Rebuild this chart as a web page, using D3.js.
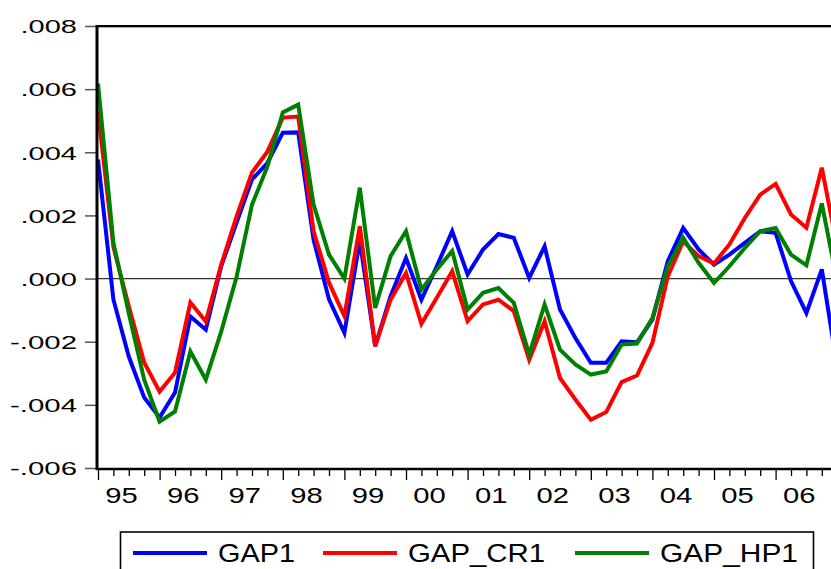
<!DOCTYPE html>
<html>
<head>
<meta charset="utf-8">
<script src="https://cdn.jsdelivr.net/npm/d3@7"></script>
<style>
  body { margin: 0; background: #fff; }
  svg { display: block; font-family: Arial, "Liberation Sans", sans-serif; }
</style>
</head>
<body>
<svg id="chart" width="831" height="569"></svg>
<script>
// quarterly observations, 1995Q1 .. 2007Q1, values in units of 0.001
const gap1 = [3.77, -0.66, -2.47, -3.77, -4.40, -3.61, -1.20, -1.62, 0.39, 1.77, 3.14, 3.66,
  4.62, 4.63, 1.23, -0.66, -1.72, 1.20, -2.14, -0.56, 0.65, -0.67, 0.39, 1.50,
  0.13, 0.92, 1.41, 1.29, 0.02, 1.02, -0.98, -1.88, -2.67, -2.67, -1.99, -2.02,
  -1.30, 0.55, 1.60, 0.92, 0.44, 0.76, 1.13, 1.50, 1.45, -0.08, -1.09, 0.29, -2.80];
const gapCr1 = [5.30, 1.00, -0.88, -2.66, -3.58, -2.98, -0.76, -1.36, 0.44, 1.97, 3.36, 4.02,
  5.10, 5.13, 1.50, -0.13, -1.19, 1.66, -2.14, -0.67, 0.18, -1.43, -0.61, 0.23,
  -1.35, -0.82, -0.67, -1.03, -2.57, -1.35, -3.15, -3.83, -4.47, -4.23, -3.28, -3.07,
  -2.04, 0.07, 1.18, 0.71, 0.48, 1.08, 1.92, 2.66, 3.00, 2.03, 1.61, 3.51, 1.00];
const gapHp1 = [6.18, 1.14, -1.10, -3.20, -4.53, -4.21, -2.31, -3.20, -1.68, 0.06, 2.34, 3.55,
  5.26, 5.51, 2.34, 0.76, 0.00, 2.88, -0.93, 0.71, 1.50, -0.35, 0.29, 0.87,
  -0.98, -0.45, -0.30, -0.77, -2.41, -0.82, -2.25, -2.72, -3.04, -2.94, -2.09, -2.06,
  -1.25, 0.39, 1.29, 0.50, -0.14, 0.39, 0.97, 1.50, 1.60, 0.76, 0.42, 2.38, -0.10];

const seriesNames = ["GAP1", "GAP_CR1", "GAP_HP1"];
const seriesColors = ["#0000ff", "#ff0000", "#008000"];
const yearLabels = ["95", "96", "97", "98", "99", "00", "01", "02", "03", "04", "05", "06"];
const yTicks = [-0.006, -0.004, -0.002, 0, 0.002, 0.004, 0.006, 0.008];

const plotLeft = 97, plotTop = 26, plotBottom = 469;
const nObs = gap1.length;

const svg = d3.select("#chart");

const x = d3.scaleLinear().domain([0, nObs - 1]).range([98, 98 + 15.4 * (nObs - 1)]);
const y = d3.scaleLinear().domain([-0.006, 0.008]).range([468, 26]);

const fmt = v => d3.format(".3f")(v).replace("\u2212", "-").replace("0.", ".");

// zero line
svg.append("line")
  .attr("x1", plotLeft).attr("x2", 900)
  .attr("y1", y(0)).attr("y2", y(0))
  .attr("stroke", "#333").attr("stroke-width", 1.2);

// series
const line = d3.line()
  .x((d, i) => x(i))
  .y(d => y(d / 1000));

[gap1, gapCr1, gapHp1].forEach((s, k) => {
  svg.append("path")
    .datum(s)
    .attr("d", line)
    .attr("fill", "none")
    .attr("stroke", seriesColors[k])
    .attr("stroke-width", 4);
});

// frame top
svg.append("line")
  .attr("x1", plotLeft).attr("x2", 900).attr("y1", 27.6).attr("y2", 27.6)
  .attr("stroke", "#aaa").attr("stroke-width", 1);
svg.append("line")
  .attr("x1", plotLeft).attr("x2", 900).attr("y1", 26).attr("y2", 26)
  .attr("stroke", "#000").attr("stroke-width", 2.2);

// y axis
const yAxis = svg.append("g")
  .attr("transform", `translate(${plotLeft},0)`)
  .call(d3.axisLeft(y).tickValues(yTicks).tickFormat(fmt).tickSize(12).tickPadding(8));
yAxis.select(".domain").remove();
yAxis.selectAll(".tick line").attr("stroke", "#555").attr("stroke-width", 1.5);
yAxis.selectAll(".tick text")
  .attr("font-size", 19)
  .attr("font-family", "Arial, 'Liberation Sans', sans-serif")
  .attr("fill", "#000")
  .attr("dy", "0.36em")
  .attr("lengthAdjust", "spacingAndGlyphs")
  .attr("textLength", d => d < 0 ? 67 : 56.5);
svg.append("line")
  .attr("x1", plotLeft).attr("x2", plotLeft).attr("y1", plotTop - 1).attr("y2", plotBottom + 1)
  .attr("stroke", "#000").attr("stroke-width", 3);

// x axis: quarterly ticks, longer at each year
const xAxis = svg.append("g")
  .attr("transform", `translate(0,${plotBottom})`)
  .call(d3.axisBottom(x).tickValues(d3.range(0, nObs)).tickFormat("").tickSize(7));
xAxis.select(".domain").remove();
xAxis.selectAll(".tick line")
  .attr("y2", d => d % 4 === 0 ? 11 : 7)
  .attr("stroke", "#000").attr("stroke-width", 1.3);

const xLabels = svg.append("g")
  .attr("transform", `translate(0,${plotBottom})`)
  .call(d3.axisBottom(x)
    .tickValues(yearLabels.map((d, i) => i * 4 + 1.5))
    .tickFormat((d, i) => yearLabels[i])
    .tickSize(0));
xLabels.select(".domain").remove();
xLabels.selectAll(".tick text")
  .attr("y", 34).attr("dy", 0)
  .attr("font-size", 22)
  .attr("font-family", "Arial, 'Liberation Sans', sans-serif")
  .attr("fill", "#000")
  .attr("lengthAdjust", "spacingAndGlyphs")
  .attr("textLength", 32.5);

svg.append("line")
  .attr("x1", plotLeft - 1).attr("x2", 900).attr("y1", plotBottom).attr("y2", plotBottom)
  .attr("stroke", "#000").attr("stroke-width", 2.4);

// legend
const legend = svg.append("g");
legend.append("rect")
  .attr("x", 120.5).attr("y", 532)
  .attr("width", 693).attr("height", 60)
  .attr("fill", "none").attr("stroke", "#000").attr("stroke-width", 1.6);
const legX = [133, 323, 575];
const legW = [77, 137, 138];
seriesNames.forEach((name, k) => {
  legend.append("line")
    .attr("x1", legX[k]).attr("x2", legX[k] + 74)
    .attr("y1", 553).attr("y2", 553)
    .attr("stroke", seriesColors[k]).attr("stroke-width", 4);
  legend.append("text")
    .attr("x", legX[k] + 85).attr("y", 562)
    .attr("font-size", 26)
    .attr("lengthAdjust", "spacingAndGlyphs")
    .attr("textLength", legW[k])
    .text(name);
});
</script>
</body>
</html>
